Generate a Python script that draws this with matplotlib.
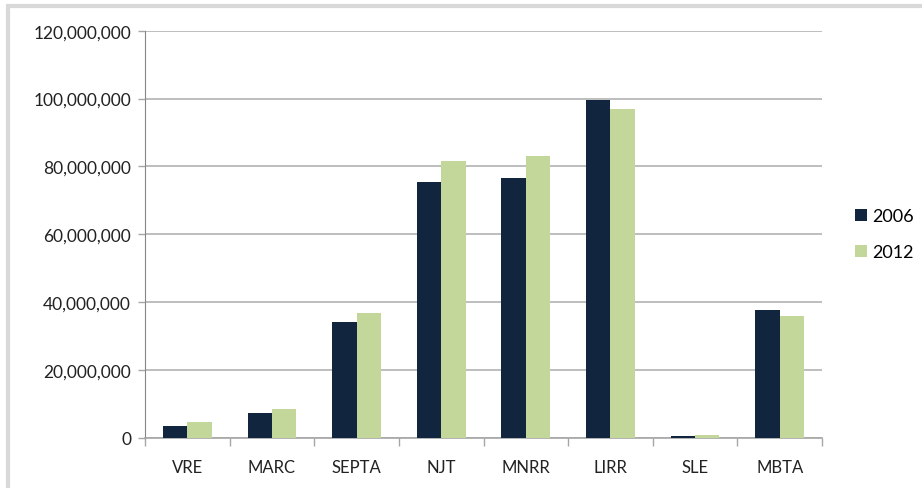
import matplotlib.pyplot as plt
from matplotlib.patches import Rectangle
from matplotlib.ticker import FuncFormatter, MultipleLocator
import numpy as np

plt.rcParams['font.family'] = ['Lato', 'DejaVu Sans']

# ridership by agency
agencies = ['VRE', 'MARC', 'SEPTA', 'NJT', 'MNRR', 'LIRR', 'SLE', 'MBTA']
y2006 = [3.5e6, 7.3e6, 34.1e6, 75.5e6, 76.6e6, 99.5e6, 0.4e6, 37.6e6]
y2012 = [4.7e6, 8.5e6, 36.8e6, 81.5e6, 83.0e6, 96.9e6, 0.7e6, 35.8e6]

fig = plt.figure(figsize=(9.22, 4.89), dpi=100)
ax = fig.add_axes([145/922, 1-438.7/489, 677/922, 407/489])

# chart border
fig.patches.append(Rectangle((0.009, -0.01), 1.2, 0.995, transform=fig.transFigure,
                             fill=False, edgecolor='#d9d9d9', linewidth=3))

x = np.arange(len(agencies))
w = 0.288
ax.bar(x - w/2, y2006, w, color='#11253f', label='2006', zorder=3)
ax.bar(x + w/2, y2012, w, color='#c4d79b', label='2012', zorder=3)

ax.set_xlim(-0.5, len(agencies) - 0.5)
ax.set_ylim(0, 120e6)
ax.yaxis.set_major_locator(MultipleLocator(20e6))
ax.yaxis.set_major_formatter(FuncFormatter(lambda v, p: f'{int(v):,}'))
ax.grid(axis='y', color='#b3b3b3', linewidth=1.2, zorder=0)

ax.set_xticks(x)
ax.set_xticklabels(agencies)
ax.set_xticks(np.arange(-0.5, len(agencies)), minor=True)
ax.tick_params(axis='x', which='major', length=0, pad=15, labelsize=12, colors='#222222')
ax.tick_params(axis='x', which='minor', length=6, width=1, color='#a6a6a6')
ax.tick_params(axis='y', length=5, width=1, color='#a6a6a6', pad=5, labelsize=12.5, labelcolor='#222222')

for s in ['top', 'right']:
    ax.spines[s].set_visible(False)
ax.spines['left'].set_color('#868686')
ax.spines['bottom'].set_color('#a6a6a6')
ax.spines['bottom'].set_linewidth(1.2)

ax.legend(loc='center left', bbox_to_anchor=(1.025, 0.5), frameon=False, fontsize=13,
          handlelength=0.65, handleheight=0.65, handletextpad=0.3, labelspacing=1.1)

plt.savefig('out.png', dpi=100)
